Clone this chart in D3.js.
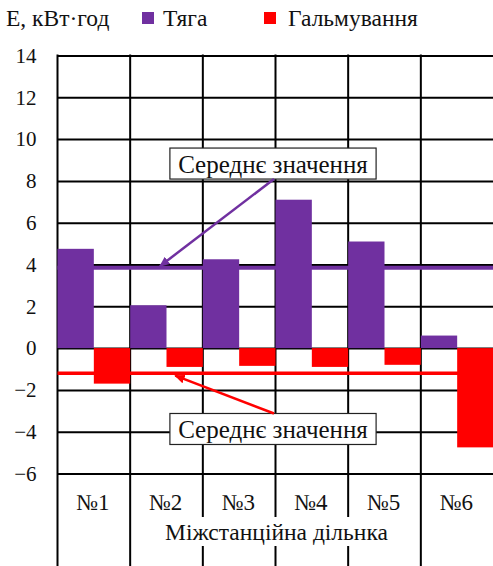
<!DOCTYPE html>
<html>
<head>
<meta charset="utf-8">
<script src="https://cdn.jsdelivr.net/npm/d3@7"></script>
<style>
  html, body { margin: 0; padding: 0; background: #fff; }
  svg { display: block; }
</style>
</head>
<body>
<svg id="chart" width="493" height="566"></svg>
<script>
const categories = ['№1', '№2', '№3', '№4', '№5', '№6'];
const traction = [4.75, 2.05, 4.25, 7.1, 5.1, 0.6];
const braking = [-1.7, -0.9, -0.85, -0.9, -0.8, -4.75];
const yTicks = [-6, -4, -2, 0, 2, 4, 6, 8, 10, 12, 14];
const tractionMean = 3.85;
const brakingMean = -1.2;
const seriesNames = ['Тяга', 'Гальмування'];
const meanLabel = 'Середнє значення';
const yTitle = 'E, кВт·год';
const xTitle = 'Міжстанційна дільнка';

const FONT = 'Liberation Serif';
const purple = '#7030a0';
const red = '#ff0000';

const svg = d3.select('#chart');
const plotL = 57.5, plotR = 493.5, plotT = 55.5, plotB = 473.5;

const x = d3.scaleBand().domain(categories).range([plotL, plotR]).padding(0);
const y = d3.scaleLinear().domain([-6, 14]).range([plotB, plotT]);
const bw = x.bandwidth();

// horizontal grid + tick labels
const yAxis = svg.append('g')
    .attr('transform', `translate(${plotL},0)`)
    .call(d3.axisLeft(y).tickValues(yTicks).tickSizeInner(-(plotR - plotL)).tickSizeOuter(0).tickPadding(21));
yAxis.attr('font-family', FONT).attr('font-size', 21);
yAxis.select('.domain').remove();
yAxis.selectAll('line').attr('stroke', '#000').attr('stroke-width', 2);
yAxis.selectAll('text').attr('fill', '#111');

// vertical category lines, running down through the label table
const edges = categories.map(c => x(c));
svg.append('g').selectAll('line')
    .data(edges)
    .join('line')
    .attr('x1', d => d).attr('x2', d => d)
    .attr('y1', plotT - 1).attr('y2', 566)
    .attr('stroke', '#000')
    .attr('stroke-width', 2);

// bars
svg.append('g').selectAll('rect')
    .data(traction)
    .join('rect')
    .attr('x', (d, i) => x(categories[i]))
    .attr('width', bw / 2)
    .attr('y', d => y(Math.max(0, d)))
    .attr('height', d => Math.abs(y(d) - y(0)))
    .attr('fill', purple);

svg.append('g').selectAll('rect')
    .data(braking)
    .join('rect')
    .attr('x', (d, i) => x(categories[i]) + bw / 2)
    .attr('width', bw / 2)
    .attr('y', d => y(Math.max(0, d)))
    .attr('height', d => Math.abs(y(d) - y(0)))
    .attr('fill', red);

// mean lines
svg.append('line')
    .attr('x1', plotL).attr('x2', plotR)
    .attr('y1', y(tractionMean)).attr('y2', y(tractionMean))
    .attr('stroke', purple).attr('stroke-width', 4);
svg.append('line')
    .attr('x1', plotL).attr('x2', plotR)
    .attr('y1', y(brakingMean)).attr('y2', y(brakingMean))
    .attr('stroke', red).attr('stroke-width', 3.5);

// arrow markers
const defs = svg.append('defs');
[['arr-p', purple], ['arr-r', red]].forEach(([id, col]) => {
  defs.append('marker')
      .attr('id', id)
      .attr('viewBox', '0 0 10 10')
      .attr('refX', 9).attr('refY', 5)
      .attr('markerWidth', 4.2).attr('markerHeight', 3.6)
      .attr('markerUnits', 'strokeWidth')
      .attr('orient', 'auto')
      .attr('preserveAspectRatio', 'none')
    .append('path')
      .attr('d', 'M0,0 L10,5 L0,10 Z')
      .attr('fill', col);
});

// callout boxes with arrows
function callout(cx, cy, tipX, tipY, fromTop, col, marker) {
  const g = svg.append('g');
  const t = g.append('text')
      .attr('x', cx).attr('y', cy + 1)
      .attr('text-anchor', 'middle')
      .attr('dominant-baseline', 'central')
      .attr('font-family', FONT)
      .attr('font-size', 25)
      .attr('fill', '#111')
      .text(meanLabel);
  const bb = t.node().getBBox();
  const bh = 31, bwid = bb.width + 16;
  g.insert('rect', 'text')
      .attr('x', cx - bwid / 2).attr('y', cy - bh / 2)
      .attr('width', bwid).attr('height', bh)
      .attr('fill', '#fff').attr('stroke', '#222').attr('stroke-width', 1.2);
  const sy = fromTop ? cy + bh / 2 : cy - bh / 2;
  svg.append('line')
      .attr('x1', cx + 1).attr('y1', sy)
      .attr('x2', tipX).attr('y2', tipY)
      .attr('stroke', col).attr('stroke-width', 2.5)
      .attr('marker-end', `url(#${marker})`);
}
const mid = (plotL + plotR) / 2 - 2.5;
callout(mid, y(8.83), x('№2') + bw * 0.41, y(tractionMean) - 1.5, true, purple, 'arr-p');
callout(mid, y(-3.87), x('№2') + bw * 0.62, y(brakingMean) + 2.5, false, red, 'arr-r');

// category labels
svg.append('g').selectAll('text')
    .data(categories)
    .join('text')
    .attr('x', d => x(d) + bw / 2 - 1)
    .attr('y', 502)
    .attr('text-anchor', 'middle')
    .attr('dominant-baseline', 'central')
    .attr('font-family', FONT)
    .attr('font-size', 23)
    .attr('fill', '#111')
    .text(d => d);

// x title with white backing that breaks the separator lines
const xg = svg.append('g');
const xt = xg.append('text')
    .attr('x', 276.5).attr('y', 532)
    .attr('text-anchor', 'middle')
    .attr('dominant-baseline', 'central')
    .attr('font-family', FONT)
    .attr('font-size', 23.5)
    .attr('fill', '#111')
    .text(xTitle);
const xb = xt.node().getBBox();
xg.insert('rect', 'text')
    .attr('x', xb.x - 4).attr('y', 517)
    .attr('width', xb.width + 8).attr('height', 29)
    .attr('fill', '#fff');

// legend
svg.append('text')
    .attr('x', 6).attr('y', 18)
    .attr('dominant-baseline', 'central')
    .attr('font-family', FONT)
    .attr('font-size', 23.5)
    .attr('fill', '#111')
    .text(yTitle);
const legend = [
  { name: seriesNames[0], col: purple, sx: 142, tx: 163 },
  { name: seriesNames[1], col: red, sx: 264, tx: 288 }
];
const lg = svg.append('g').selectAll('g').data(legend).join('g');
lg.append('rect')
    .attr('x', d => d.sx).attr('y', 12)
    .attr('width', 12).attr('height', 12)
    .attr('fill', d => d.col);
lg.append('text')
    .attr('x', d => d.tx).attr('y', 18)
    .attr('dominant-baseline', 'central')
    .attr('font-family', FONT)
    .attr('font-size', 23.5)
    .attr('fill', '#111')
    .text(d => d.name);
</script>
</body>
</html>
